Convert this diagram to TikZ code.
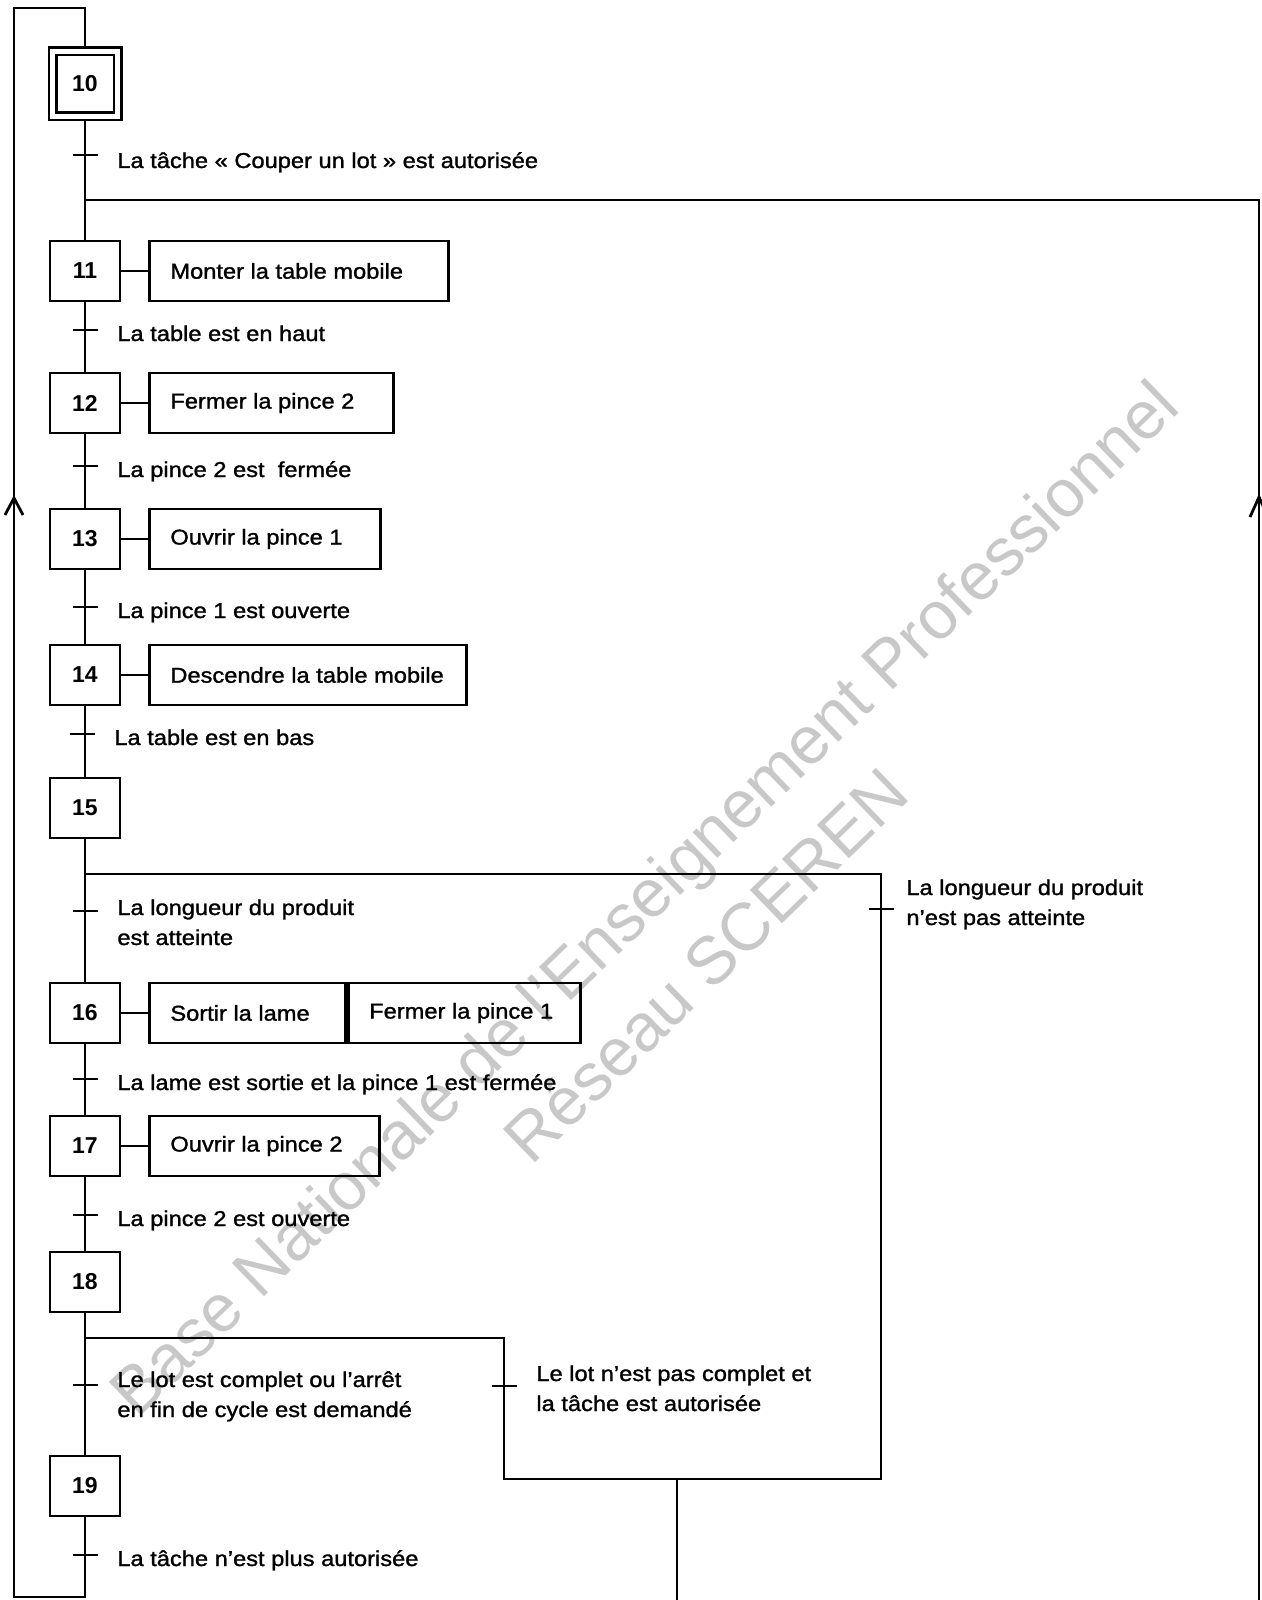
\documentclass[tikz,border=0pt]{standalone}
\usepackage{fontspec}
\setmainfont{Liberation Sans}
\newfontfamily\labfont{Liberation Sans}[FakeStretch=1.1,FakeBold=1.3]
\definecolor{wm}{RGB}{200,200,200}
\newcommand\labsize{\labfont\fontsize{10.75}{15}\selectfont}
\newcommand\stepnumfont{\fontsize{11.5}{13}\selectfont\bfseries}
\newcommand\wmarkfont{\fontsize{33.6}{45}\selectfont}
\newcommand\actxt[2]{\hbox to #1{\hspace{10.5pt}#2\hfil}}
\newcommand\twol[2]{\begin{tabular}[t]{@{}l@{}}#1\\#2\end{tabular}}
\begin{document}
\begin{tikzpicture}[x=0.5pt,y=-0.5pt,line width=1.4pt,
  stepbox/.style={draw, minimum width=35pt, minimum height=30pt, inner sep=0pt, font=\stepnumfont},
  actbox/.style={draw, anchor=west, minimum height=30pt, inner sep=0pt, font=\labsize},
  lab/.style={anchor=base west, inner sep=0pt, font=\labsize},
  wmark/.style={text=wm, font=\wmarkfont, rotate=44, anchor=base, inner sep=0pt}]
\useasboundingbox (0,0) rectangle (1262,1600);
\fill[white] (0,0) rectangle (1262,1600);
% watermark
\node[wmark] (wm1) at (660,915) {Base Nationale de l'Enseignement Professionnel};
\node[wmark] (wm2) at (722,982) {Réseau SCEREN};
% steps
\node[stepbox, double, double distance=2.2pt, minimum size=32.5pt, outer sep=2.5pt] (s10) at (85,84) {10};
\node[stepbox] (s11) at (85,271) {11};
\node[stepbox] (s12) at (85,403) {12};
\node[stepbox] (s13) at (85,539) {13};
\node[stepbox] (s14) at (85,675) {14};
\node[stepbox] (s15) at (85,808) {15};
\node[stepbox] (s16) at (85,1013) {16};
\node[stepbox] (s17) at (85,1146) {17};
\node[stepbox] (s18) at (85,1282) {18};
\node[stepbox] (s19) at (85,1486) {19};
% actions
\node[actbox] (a11) at (148,271) {\actxt{149.5pt}{Monter la table mobile}};
\node[actbox] (a12) at (148,403) {\actxt{122pt}{Fermer la pince 2}};
\node[actbox] (a13) at (148,539) {\actxt{115.5pt}{Ouvrir la pince 1}};
\node[actbox] (a14) at (148,675) {\actxt{158.5pt}{Descendre la table mobile}};
\node[actbox] (a16a) at (148,1013) {\actxt{98pt}{Sortir la lame}};
\node[actbox] (a16b) at (a16a.east) {\actxt{116pt}{Fermer la pince 1}};
\node[actbox] (a17) at (148,1146) {\actxt{115pt}{Ouvrir la pince 2}};
\foreach \s/\a in {s11/a11,s12/a12,s13/a13,s14/a14,s16/a16a,s17/a17}
  \draw (\s.east) -- (\a.west);
% coordinates
\coordinate (top) at (85,8);
\coordinate (tl) at (14,8);
\coordinate (bl) at (14,1597);
\coordinate (bm) at (85,1597);
\coordinate (j1) at (85,200);
\coordinate (rt) at (1259,200);
\coordinate (rb) at (1259,1602);
\coordinate (d1) at (85,874);
\coordinate (d1r) at (881,874);
\coordinate (c1) at (881,1479);
\coordinate (d2) at (85,1338);
\coordinate (d2r) at (504,1338);
\coordinate (c2) at (504,1479);
\coordinate (o1) at (677,1479);
\coordinate (o2) at (677,1602);
\coordinate (al) at (14,498);
\coordinate (ar) at (1259,497);
% links
\draw (s10.north) -- (top) -- (tl) -- (bl) -- (bm) -- (s19.south);
\draw (s10.south) -- (s11.north);
\draw (s11.south) -- (s12.north);
\draw (s12.south) -- (s13.north);
\draw (s13.south) -- (s14.north);
\draw (s14.south) -- (s15.north);
\draw (s15.south) -- (s16.north);
\draw (s16.south) -- (s17.north);
\draw (s17.south) -- (s18.north);
\draw (s18.south) -- (s19.north);
\draw (j1) -- (rt) -- (rb);
\draw (d1) -- (d1r) -- (c1) -- (c2) -- (d2r) -- (d2);
\draw (o1) -- (o2);
% arrows
\draw ([shift={(-9,17)}]al) -- (al) -- ([shift={(9,17)}]al);
\draw ([shift={(-9,20)}]ar) -- (ar) -- ([shift={(9,20)}]ar);
% transitions
\foreach \x/\y in {85/155,85/330,85/466,85/607,82/734,85/911,881/909,85/1079,85/1215,85/1385,504/1386,85/1555}
  \draw (\x-12.5,\y) -- (\x+12.5,\y);
% labels
\node[lab] (l10) at (116,168) {La tâche « Couper un lot » est autorisée};
\node[lab] (l11) at (116,341) {La table est en haut};
\node[lab] (l12) at (116,477) {La pince 2 est~ fermée};
\node[lab] (l13) at (116,618) {La pince 1 est ouverte};
\node[lab] (l14) at (113,745) {La table est en bas};
\node[lab] (l15) at (116,915) {\twol{La longueur du produit}{est atteinte}};
\node[lab] (l15b) at (905,895) {\twol{La longueur du produit}{n’est pas atteinte}};
\node[lab] (l16) at (116,1090) {La lame est sortie et la pince 1 est fermée};
\node[lab] (l17) at (116,1226) {La pince 2 est ouverte};
\node[lab] (l18) at (116,1387) {\twol{Le lot est complet ou l’arrêt}{en fin de cycle est demandé}};
\node[lab] (l18b) at (535,1381) {\twol{Le lot n’est pas complet et}{la tâche est autorisée}};
\node[lab] (l19) at (116,1566) {La tâche n’est plus autorisée};
\end{tikzpicture}
\end{document}
